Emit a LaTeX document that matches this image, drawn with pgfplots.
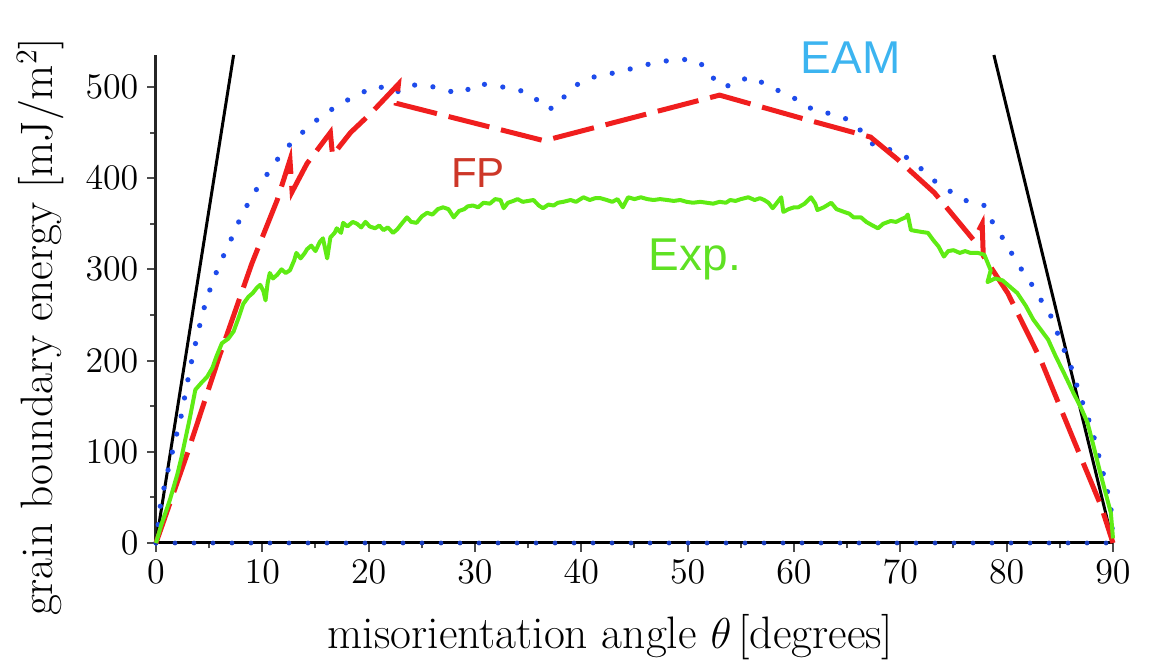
\documentclass[border=0pt]{standalone}
\usepackage{fontspec}
\usepackage{pgfplots}
\pgfplotsset{compat=1.18}
\newfontfamily\hv{Liberation Sans}
\definecolor{eamblue}{RGB}{30,75,235}
\definecolor{fpred}{RGB}{240,30,30}
\definecolor{expgreen}{RGB}{95,235,20}
\definecolor{eamlabel}{RGB}{60,180,240}
\definecolor{fplabel}{RGB}{205,55,40}
\definecolor{explabel}{RGB}{95,225,35}
\begin{document}
\begin{tikzpicture}
\path[use as bounding box] (-62.4pt,-50pt) rectangle (398pt,217.2pt);
\begin{axis}[
  at={(0,0)}, anchor=south west,
  scale only axis, width=382.8pt, height=195.2pt,
  xmin=0, xmax=90, ymin=0, ymax=535,
  axis x line*=bottom, axis y line*=left,
  axis line style={line width=1.2pt, draw=black!85},
  xtick={0,10,...,90}, ytick={0,100,...,500},
  minor x tick num=1, minor y tick num=1,
  tick align=outside,
  major tick length=3.5pt, minor tick length=2.2pt,
  tick style={line width=0.8pt, black!70},
  tick label style={font=\fontsize{15.5}{18}\selectfont},
  label style={font=\fontsize{18.2}{22}\selectfont},
  xlabel={misorientation angle $\theta\,$[degrees]},
  ylabel={grain boundary energy [mJ/m$^2$]},
  xlabel style={at={(axis description cs:0.475,-0.193)}, anchor=center},
  ylabel style={at={(axis description cs:-0.121,0.443)}, anchor=center},
  clip=false,
]
% black limiting lines
\addplot[black, line width=1.2pt] coordinates {(0,0) (7.3,535)};
\addplot[black, line width=1.2pt] coordinates {(78.8,535) (90,0)};
\addplot[black, line width=1.2pt] coordinates {(0,0) (90,0)};
% EAM
\addplot[eamblue, line width=2.1pt, line cap=round, dash pattern=on 0pt off 7.4pt] coordinates {
(0,0) (0.4,40) (0.85,66) (1.3,88) (1.8,113) (2.3,135) (3.0,179) (3.5,208) (4.3,248) (4.8,269)
(5.4,288) (6.0,307) (6.8,325) (7.4,343) (8.2,362) (9.1,382) (10.1,398) (11.0,414) (12.1,431)
(13.3,445) (14.7,460) (16.2,473) (17.6,483) (19.2,493) (20.9,501) (22.5,493) (23.7,502)
(25.5,502) (27.2,496) (28.8,493) (30.2,504) (31.9,501) (33.8,498) (35.4,491) (36.6,476)
(37.6,477) (38.7,494) (40.1,507) (41.8,513) (43.5,516) (45.3,522) (47.1,527) (48.9,530)
(50.6,530) (51.9,520) (52.8,502) (54.2,501) (55.7,511) (57.4,503) (59.0,493) (60.5,485)
(61.9,474) (63.3,471) (64.9,465) (66.3,452) (67.5,436) (69.1,431) (70.7,422) (72.1,409)
(73.4,395) (74.9,384) (76.4,374) (77.9,370) (78.7,351) (79.7,333) (80.6,315) (81.5,298)
(82.5,281) (83.4,263) (84.3,246) (84.9,226) (85.6,206) (86.3,186) (86.8,164) (87.5,143)
(88.1,121) (88.7,94) (89.3,66) (89.8,40) (90,0)};
\addplot[eamblue!80!black, line width=1.9pt, line cap=round, dash pattern=on 0pt off 7.6pt] coordinates {(0,0) (90,0)};
% FP
\addplot[fpred, line width=2pt, dash pattern=on 16.8pt off 4.8pt] coordinates {
(0,0) (3,100) (6,206) (9,306) (11.4,376) (12.6,420) (12.8,385) (14.2,416) (16.4,450)
(16.6,425) (18.3,450) (20.2,471) (22.8,503) (22.6,482) (36.5,441) (53.0,491) (60.6,466)
(67.2,445) (69.8,420) (73.2,384) (76.9,332) (77.7,350) (77.8,315) (80.1,274) (83.2,201)
(86.3,113) (88.9,40) (90,0)};
% Exp
\addplot[expgreen, line width=1.6pt, line join=round] coordinates {
(0,0) (0.5,20) (1.3,47) (2.0,75) (2.4,94) (3.2,138) (3.7,168) (4.3,176) (4.8,182) (5.3,192)
(5.7,205) (6.2,219) (6.8,224) (7.3,232) (7.8,248) (8.2,262) (8.7,270) (9.1,274) (9.5,280)
(9.8,283) (10.1,276) (10.3,266) (10.5,285) (10.7,296) (11.0,290) (11.4,294) (11.8,300)
(12.2,296) (12.6,299) (13.0,310) (13.2,318) (13.6,312) (14.0,318) (14.2,322) (14.6,326)
(15.0,320) (15.4,330) (15.7,334) (16.1,312) (16.4,335) (16.8,340) (17.0,345) (17.4,340)
(17.6,351) (18.0,347) (18.5,352) (18.9,350) (19.3,346) (19.7,352) (20.1,347) (20.6,345)
(21.0,348) (21.4,343) (21.8,346) (22.3,340) (22.7,344) (23.1,350) (23.6,357) (24.0,352)
(24.5,351) (25.0,358) (25.5,362) (26.0,360) (26.5,366) (27.0,368) (27.5,366) (28.0,357)
(28.5,364) (29.0,366) (29.3,369) (29.8,370) (30.3,368) (30.8,373) (31.4,372) (31.9,377)
(32.4,376) (32.7,367) (33.1,373) (33.6,375) (34.0,377) (34.5,374) (35.0,375) (35.5,376)
(36.0,370) (36.4,367) (36.9,371) (37.4,370) (37.8,373) (38.3,374) (39.0,376) (39.5,374)
(40.2,379) (40.8,376) (41.3,378) (41.8,378) (42.4,376) (42.9,374) (43.4,377) (43.9,368)
(44.4,379) (45.0,377) (45.6,379) (46.2,377) (46.8,376) (47.4,377) (48.1,376) (48.7,375)
(49.3,376) (49.9,374) (50.5,373) (51.2,374) (51.8,373) (52.4,372) (53.0,374) (53.6,373)
(54.0,376) (54.5,375) (55.0,377) (55.7,379) (56.3,376) (56.8,378) (57.2,376) (57.6,373)
(58.0,367) (58.4,373) (58.8,379) (59.0,363) (59.5,366) (60.0,368) (60.4,368) (61.0,372)
(61.6,379) (62.0,372) (62.2,365) (62.8,368) (63.5,373) (64.0,366) (64.7,363) (65.2,361)
(65.6,357) (66.3,357) (66.8,352) (67.4,348) (67.9,345) (68.4,350) (69.1,353) (69.6,352)
(70.1,355) (70.5,357) (70.7,360) (71.0,343) (71.5,342) (72.0,341) (72.6,340) (73.1,332)
(73.6,325) (74.1,314) (74.5,320) (75.0,321) (75.6,318) (76.1,320) (76.6,318) (77.3,318)
(77.9,316) (78.5,299) (78.2,286) (78.9,290) (79.6,288) (80.3,281) (81.0,274) (81.8,260)
(82.5,245) (83.2,234) (83.9,223) (84.6,205) (85.4,186) (86.3,164) (87.0,148) (87.6,132)
(88.2,105) (88.8,77) (89.3,55) (89.8,33) (90,5)};
% labels
\node[anchor=base west, text=eamlabel, font=\hv\fontsize{18.4}{22}\selectfont, inner sep=0pt] at (axis cs:60.6,515) {EAM};
\node[anchor=base west, text=fplabel, font=\hv\fontsize{16.8}{20}\selectfont, inner sep=0pt] at (axis cs:27.7,390) {FP};
\node[anchor=base west, text=explabel, font=\hv\fontsize{18.4}{22}\selectfont, inner sep=0pt] at (axis cs:46.3,299) {Exp.};
\end{axis}
\end{tikzpicture}
\end{document}
